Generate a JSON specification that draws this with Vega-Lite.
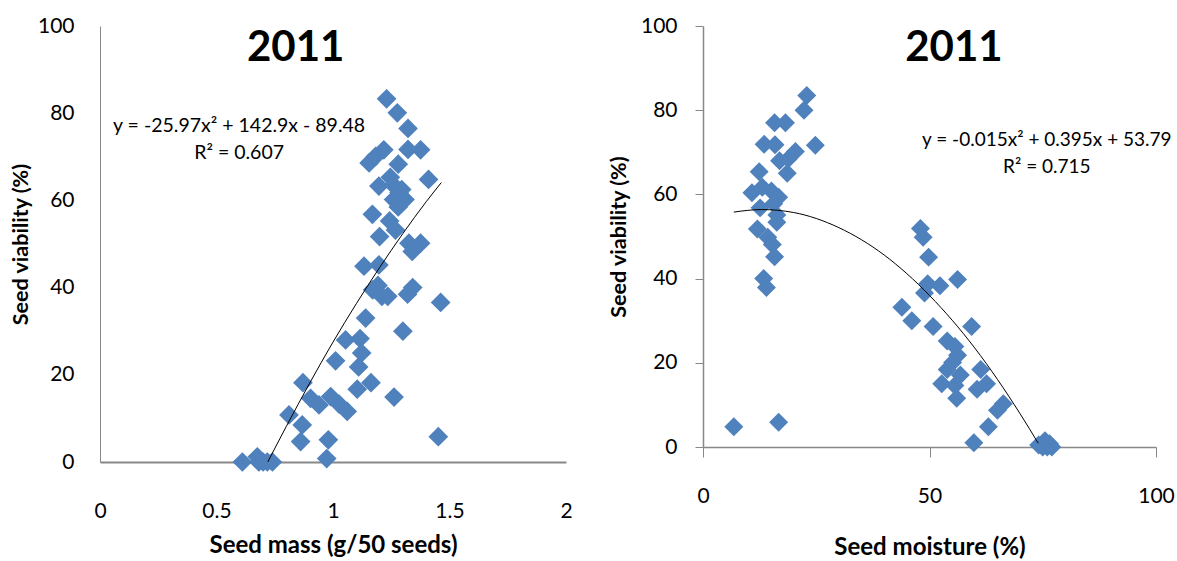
{
  "$schema": "https://vega.github.io/schema/vega-lite/v6.json",
  "background": "white",
  "padding": {"left": 10, "top": 15, "right": 0, "bottom": 0},
  "spacing": 35,
  "config": {
    "view": {"stroke": null},
    "font": "Lato",
    "axis": {"grid": false, "labelFont": "Lato", "labelFontSize": 21, "labelColor": "#000000", "titleFont": "Lato", "titleFontSize": 22, "titleFontWeight": "bold", "titleColor": "#000000", "domainColor": "#888888"}
  },
  "datasets": {
    "mass": [
      {"mass": 1.23, "viab": 83.3}, {"mass": 1.276, "viab": 80.1}, {"mass": 1.322, "viab": 76.5}, {"mass": 1.322, "viab": 71.7}, {"mass": 1.376, "viab": 71.6},
      {"mass": 1.155, "viab": 68.6}, {"mass": 1.183, "viab": 70.1}, {"mass": 1.218, "viab": 71.6}, {"mass": 1.28, "viab": 68.3}, {"mass": 1.41, "viab": 64.8},
      {"mass": 1.197, "viab": 63.3}, {"mass": 1.246, "viab": 65.3}, {"mass": 1.26, "viab": 63.5}, {"mass": 1.284, "viab": 61.8}, {"mass": 1.309, "viab": 60.2},
      {"mass": 1.26, "viab": 60.2}, {"mass": 1.28, "viab": 58.5}, {"mass": 1.295, "viab": 62.5}, {"mass": 1.169, "viab": 56.8}, {"mass": 1.243, "viab": 55.3},
      {"mass": 1.268, "viab": 53.2}, {"mass": 1.2, "viab": 51.7}, {"mass": 1.326, "viab": 50.2}, {"mass": 1.376, "viab": 50.2}, {"mass": 1.34, "viab": 48.3},
      {"mass": 1.133, "viab": 44.9}, {"mass": 1.197, "viab": 45.2}, {"mass": 1.17, "viab": 39.5}, {"mass": 1.193, "viab": 40.5}, {"mass": 1.21, "viab": 38.0},
      {"mass": 1.235, "viab": 38.0}, {"mass": 1.32, "viab": 38.5}, {"mass": 1.342, "viab": 40.0}, {"mass": 1.462, "viab": 36.6}, {"mass": 1.14, "viab": 33.0},
      {"mass": 1.3, "viab": 30.0}, {"mass": 1.054, "viab": 28.0}, {"mass": 1.116, "viab": 28.3}, {"mass": 1.123, "viab": 25.0}, {"mass": 1.011, "viab": 23.2},
      {"mass": 1.11, "viab": 21.8}, {"mass": 0.871, "viab": 18.2}, {"mass": 1.163, "viab": 18.2}, {"mass": 1.104, "viab": 16.7}, {"mass": 1.262, "viab": 14.9},
      {"mass": 0.904, "viab": 14.6}, {"mass": 0.94, "viab": 13.1}, {"mass": 0.99, "viab": 15.0}, {"mass": 1.026, "viab": 13.3}, {"mass": 1.061, "viab": 11.6},
      {"mass": 0.811, "viab": 10.8}, {"mass": 0.868, "viab": 8.5}, {"mass": 0.861, "viab": 4.7}, {"mass": 0.98, "viab": 5.1}, {"mass": 1.452, "viab": 5.8},
      {"mass": 0.973, "viab": 0.8}, {"mass": 0.611, "viab": 0}, {"mass": 0.675, "viab": 1.2}, {"mass": 0.682, "viab": 0}, {"mass": 0.7, "viab": 0},
      {"mass": 0.718, "viab": 0}, {"mass": 0.74, "viab": 0}
    ],
    "massfit": [
      {"mass": 0.72, "viab": 0.0}, {"mass": 0.8, "viab": 8.2}, {"mass": 0.9, "viab": 18.1}, {"mass": 1.0, "viab": 27.5},
      {"mass": 1.1, "viab": 36.3}, {"mass": 1.2, "viab": 44.6}, {"mass": 1.3, "viab": 52.4}, {"mass": 1.4, "viab": 59.7}, {"mass": 1.465, "viab": 64.1}
    ],
    "moist": [
      {"moist": 22.9, "viab": 83.5}, {"moist": 22.3, "viab": 80.0}, {"moist": 15.8, "viab": 77.0}, {"moist": 18.2, "viab": 77.0}, {"moist": 24.8, "viab": 71.7},
      {"moist": 13.5, "viab": 71.9}, {"moist": 15.9, "viab": 71.8}, {"moist": 20.4, "viab": 70.2}, {"moist": 18.8, "viab": 68.4}, {"moist": 16.9, "viab": 68.0},
      {"moist": 12.4, "viab": 65.4}, {"moist": 18.6, "viab": 65.0}, {"moist": 10.8, "viab": 60.4}, {"moist": 13.1, "viab": 61.7}, {"moist": 15.1, "viab": 60.8},
      {"moist": 16.7, "viab": 59.3}, {"moist": 15.6, "viab": 57.8}, {"moist": 12.6, "viab": 56.8}, {"moist": 16.3, "viab": 55.1}, {"moist": 16.3, "viab": 53.4},
      {"moist": 12.0, "viab": 51.8}, {"moist": 14.3, "viab": 49.8}, {"moist": 15.3, "viab": 48.1}, {"moist": 15.8, "viab": 45.2}, {"moist": 13.4, "viab": 40.0},
      {"moist": 14.0, "viab": 37.9}, {"moist": 6.8, "viab": 4.8}, {"moist": 16.7, "viab": 5.9}, {"moist": 48.0, "viab": 51.9}, {"moist": 48.6, "viab": 49.8},
      {"moist": 49.8, "viab": 45.1}, {"moist": 49.6, "viab": 38.8}, {"moist": 48.9, "viab": 36.6}, {"moist": 52.3, "viab": 38.3}, {"moist": 56.2, "viab": 39.8},
      {"moist": 43.9, "viab": 33.2}, {"moist": 46.1, "viab": 30.0}, {"moist": 50.8, "viab": 28.6}, {"moist": 59.3, "viab": 28.6}, {"moist": 53.9, "viab": 25.2},
      {"moist": 55.6, "viab": 23.9}, {"moist": 56.2, "viab": 21.8}, {"moist": 55.1, "viab": 20.1}, {"moist": 53.9, "viab": 18.4}, {"moist": 56.8, "viab": 17.1},
      {"moist": 61.3, "viab": 18.4}, {"moist": 52.7, "viab": 15.0}, {"moist": 55.6, "viab": 14.6}, {"moist": 56.0, "viab": 11.6}, {"moist": 60.5, "viab": 13.7},
      {"moist": 62.6, "viab": 15.0}, {"moist": 66.3, "viab": 10.3}, {"moist": 65.0, "viab": 8.7}, {"moist": 63.0, "viab": 4.8}, {"moist": 59.8, "viab": 1.0},
      {"moist": 74.1, "viab": 0.5}, {"moist": 75.5, "viab": 1.5}, {"moist": 76.0, "viab": 0}, {"moist": 77.0, "viab": 0}, {"moist": 75.0, "viab": 0},
      {"moist": 76.5, "viab": 0.8}
    ],
    "moistfit": [
      {"moist": 6.8, "viab": 55.8}, {"moist": 13, "viab": 56.4}, {"moist": 20, "viab": 55.7}, {"moist": 30, "viab": 52.1}, {"moist": 40, "viab": 45.6},
      {"moist": 50, "viab": 36.0}, {"moist": 60, "viab": 23.5}, {"moist": 70, "viab": 7.9}, {"moist": 74, "viab": 0.9}
    ]
  },
  "hconcat": [
    {
      "width": 466,
      "height": 436,
      "layer": [
        {
          "data": {"name": "mass"},
          "mark": {"type": "point", "shape": "diamond", "filled": true, "color": "#4F81BD", "opacity": 1, "size": 390},
          "encoding": {
            "x": {"field": "mass", "type": "quantitative", "scale": {"domain": [0, 2], "nice": false},
              "axis": {"title": "Seed mass (g/50 seeds)", "titleFontSize": 24, "values": [0, 0.5, 1, 1.5, 2], "labelExpr": "'' + datum.value", "ticks": false, "labelPadding": 38, "domainWidth": 2, "titlePadding": 12, "labelFlush": false}},
            "y": {"field": "viab", "type": "quantitative", "scale": {"domain": [0, 100], "nice": false},
              "axis": {"title": "Seed viability (%)", "titleFontSize": 21.5, "values": [0, 20, 40, 60, 80, 100], "ticks": false, "labelPadding": 26, "domainWidth": 1, "titlePadding": 5}}
          }
        },
        {
          "data": {"name": "massfit"},
          "mark": {"type": "line", "color": "#000000", "strokeWidth": 1, "interpolate": "monotone"},
          "encoding": {"x": {"field": "mass", "type": "quantitative"}, "y": {"field": "viab", "type": "quantitative"}}
        },
        {
          "data": {"values": [{"x": 0.84, "y": 95, "t": "2011"}]},
          "mark": {"type": "text", "font": "Lato", "fontSize": 42, "fontWeight": "bold", "color": "#000000", "align": "center", "baseline": "middle"},
          "encoding": {"x": {"field": "x", "type": "quantitative"}, "y": {"field": "y", "type": "quantitative"}, "text": {"field": "t"}}
        },
        {
          "data": {"values": [{"x": 0.597, "y": 77, "t": "y = -25.97x² + 142.9x - 89.48"}, {"x": 0.597, "y": 70.8, "t": "R² = 0.607"}]},
          "mark": {"type": "text", "font": "Lato", "fontSize": 19.5, "color": "#000000", "align": "center", "baseline": "middle"},
          "encoding": {"x": {"field": "x", "type": "quantitative"}, "y": {"field": "y", "type": "quantitative"}, "text": {"field": "t"}}
        }
      ]
    },
    {
      "width": 453,
      "height": 421,
      "layer": [
        {
          "data": {"name": "moist"},
          "mark": {"type": "point", "shape": "diamond", "filled": true, "color": "#4F81BD", "opacity": 1, "size": 360},
          "encoding": {
            "x": {"field": "moist", "type": "quantitative", "scale": {"domain": [0, 100], "nice": false},
              "axis": {"title": "Seed moisture (%)", "titleFontSize": 24, "values": [0, 50, 100], "ticks": true, "tickSize": 10, "tickColor": "#888888", "labelPadding": 28, "domainWidth": 1.5, "titlePadding": 29, "labelFlush": false}},
            "y": {"field": "viab", "type": "quantitative", "scale": {"domain": [0, 100], "nice": false},
              "axis": {"title": "Seed viability (%)", "titleFontSize": 21.5, "values": [0, 20, 40, 60, 80, 100], "ticks": true, "tickSize": 8, "tickColor": "#888888", "labelPadding": 18, "domainWidth": 1.5, "titlePadding": 10}}
          }
        },
        {
          "data": {"name": "moistfit"},
          "mark": {"type": "line", "color": "#000000", "strokeWidth": 1, "interpolate": "monotone"},
          "encoding": {"x": {"field": "moist", "type": "quantitative"}, "y": {"field": "viab", "type": "quantitative"}}
        },
        {
          "data": {"values": [{"x": 55.4, "y": 94.8, "t": "2011"}]},
          "mark": {"type": "text", "font": "Lato", "fontSize": 42, "fontWeight": "bold", "color": "#000000", "align": "center", "baseline": "middle"},
          "encoding": {"x": {"field": "x", "type": "quantitative"}, "y": {"field": "y", "type": "quantitative"}, "text": {"field": "t"}}
        },
        {
          "data": {"values": [{"x": 75.9, "y": 73.0, "t": "y = -0.015x² + 0.395x + 53.79"}, {"x": 75.9, "y": 66.6, "t": "R² = 0.715"}]},
          "mark": {"type": "text", "font": "Lato", "fontSize": 19, "color": "#000000", "align": "center", "baseline": "middle"},
          "encoding": {"x": {"field": "x", "type": "quantitative"}, "y": {"field": "y", "type": "quantitative"}, "text": {"field": "t"}}
        }
      ]
    }
  ]
}
